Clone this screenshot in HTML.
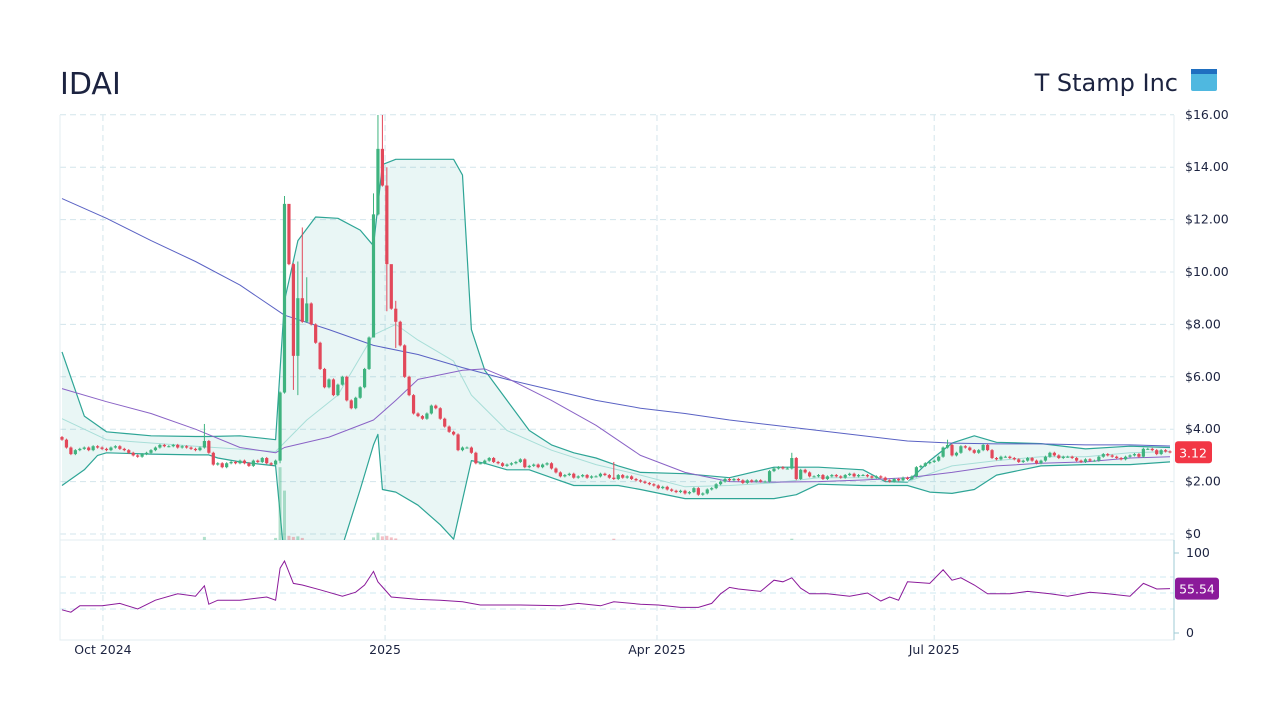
<!DOCTYPE html>
<html><head><meta charset="utf-8">
<style>
html,body{margin:0;padding:0;background:#fff;}
body{width:1280px;height:720px;overflow:hidden;font-family:"Liberation Sans","DejaVu Sans",sans-serif;}
svg text{font-family:"DejaVu Sans","Liberation Sans",sans-serif;}
</style></head>
<body>
<svg id="chart" width="1280" height="720" xmlns="http://www.w3.org/2000/svg">
  <text x="60" y="94" font-size="30" fill="#1c2340">IDAI</text>
  <text x="1178" y="91" font-size="24" fill="#1c2340" text-anchor="end">T Stamp Inc</text>
  <g>
    <rect x="1191" y="69" width="26" height="22" rx="2" fill="#4fb8e0"/>
    <rect x="1191" y="69" width="26" height="5" fill="#1f6fc0"/>
  </g>
  <g id="grid"></g>
  <g id="overlays" clip-path="url(#pc)"></g>
  <g id="candles" clip-path="url(#pc)"></g>
  <g id="rsi"></g>
  <g id="axes"></g>
  <defs><clipPath id="pc"><rect x="60" y="115" width="1114" height="425"/></clipPath></defs>
</svg>
<script>
const closes=[3.6,3.3,3.05,3.2,3.25,3.3,3.2,3.35,3.3,3.25,3.2,
3.3,3.35,3.25,3.2,3.1,3.0,2.95,3.05,3.1,3.2,
3.3,3.4,3.35,3.35,3.4,3.3,3.35,3.3,3.25,3.2,3.3,
3.55,3.1,2.65,2.7,2.55,2.7,2.75,2.7,2.8,2.7,2.6,2.8,2.75,2.9,2.7,2.65,2.8,
5.4,12.6,10.3,6.8,9.0,8.1,8.8,8.0,7.3,6.3,5.6,5.9,5.3,5.7,6.0,5.1,4.8,5.2,5.6,6.3,7.5,12.2,14.7,13.3,10.3,8.6,8.1,7.2,6.0,5.3,4.6,
4.5,4.4,4.6,4.9,4.8,4.4,4.1,3.9,3.8,3.2,3.3,3.3,3.1,2.7,2.7,2.8,2.9,2.75,2.7,2.6,2.65,2.7,2.75,2.85,2.55,2.6,2.65,2.55,2.65,2.7,2.5,2.35,2.2,2.25,2.3,2.15,2.2,2.25,2.15,2.2,2.2,2.3,2.25,2.15,2.1,2.25,2.15,2.2,2.1,2.05,2.0,1.95,1.9,1.85,1.75,1.8,1.7,1.65,1.6,1.65,1.55,1.6,1.75,
1.5,1.55,1.7,1.75,1.9,2.0,2.1,2.05,2.1,2.05,1.95,2.05,2.0,2.05,2.0,2.0,2.4,2.5,2.55,2.5,2.5,2.9,2.1,2.45,2.35,2.2,2.2,2.25,2.1,2.2,2.25,2.2,2.15,2.25,2.3,2.2,2.25,2.25,2.2,2.15,2.2,2.15,2.05,2.0,2.1,2.05,2.15,2.1,2.2,2.55,2.6,2.7,2.75,2.8,2.95,3.3,
3.4,3.0,3.1,3.35,3.3,3.2,3.1,3.2,3.4,3.2,2.9,2.85,2.95,2.95,2.9,2.85,2.75,2.8,2.9,2.8,2.7,2.8,2.95,3.1,3.0,2.9,2.95,2.95,2.9,2.8,2.75,2.85,2.8,2.8,2.95,3.05,3.0,2.95,2.9,2.85,2.95,3.0,3.05,2.95,3.25,3.25,3.2,3.05,3.2,3.15,3.12];
const firstOpen=3.7;
const wickHigh=[[32,4.2],[50,12.9],[51,11.4],[53,10.4],[54,11.7],[55,9.8],[70,13.0],[71,16.5],[72,16.0],[73,14.0],[74,9.0],[75,8.9],[124,2.75],[164,3.1],[199,3.6]];
const wickLow=[[49,2.7],[52,5.5],[53,5.3],[73,8.5],[70,8.6],[75,7.1],[165,2.05]];
const volIdx=[32,48,49,50,51,52,53,54,70,71,72,73,74,75,124,164];
const volVal=[1.2,0.8,28,19,1.6,1.2,1.4,0.8,1.0,2.8,1.4,1.6,1.0,0.6,0.5,0.5];
const sma200=[[0,12.8],[10,12.05],[20,11.2],[30,10.4],[40,9.5],[50,8.35],[60,7.8],[70,7.2],[80,6.85],[90,6.35],[100,5.9],[110,5.5],[120,5.1],[130,4.8],[140,4.6],[150,4.35],[160,4.15],[170,3.95],[180,3.75],[190,3.55],[200,3.47],[210,3.44],[220,3.44],[230,3.4],[240,3.4],[249,3.36]];
const sma50=[[0,5.55],[10,5.05],[20,4.6],[30,4.0],[40,3.3],[48,3.1],[50,3.3],[60,3.7],[70,4.35],[75,5.1],[80,5.9],[90,6.25],[95,6.3],[100,5.95],[110,5.1],[120,4.15],[130,3.0],[140,2.35],[150,2.0],[160,1.98],[170,2.0],[180,2.06],[190,2.15],[200,2.35],[210,2.6],[220,2.7],[230,2.75],[240,2.9],[249,2.95]];
const bbUpper=[[0,6.95],[5,4.5],[10,3.9],[20,3.75],[30,3.72],[33,3.72],[40,3.75],[48,3.6],[50,8.9],[53,11.2],[57,12.1],[62,12.05],[67,11.6],[70,11.0],[72,14.1],[75,14.3],[80,14.3],[88,14.3],[90,13.7],[92,7.8],[95,6.25],[100,5.1],[105,3.95],[110,3.4],[115,3.1],[120,2.9],[125,2.6],[130,2.35],[140,2.3],[150,2.15],[160,2.55],[165,2.55],[170,2.55],[180,2.45],[185,2.0],[190,1.98],[195,2.8],[200,3.47],[205,3.75],[210,3.5],[220,3.45],[230,3.25],[240,3.35],[249,3.3]];
const bbLower=[[0,1.85],[5,2.45],[8,3.0],[10,3.1],[20,3.05],[30,3.02],[33,3.02],[35,2.9],[40,2.75],[48,2.6],[50,-1.0],[55,-2.5],[62,-1.0],[67,1.7],[70,3.4],[71,3.8],[72,1.7],[75,1.6],[80,1.1],[85,0.35],[88,-0.2],[90,1.3],[92,2.8],[95,2.7],[100,2.45],[105,2.45],[110,2.15],[115,1.85],[120,1.85],[125,1.85],[130,1.7],[140,1.35],[150,1.35],[160,1.35],[165,1.5],[170,1.9],[180,1.85],[190,1.85],[195,1.6],[200,1.55],[205,1.7],[210,2.25],[220,2.6],[230,2.65],[240,2.65],[249,2.75]];
const bbMid=[[0,4.4],[10,3.6],[30,3.35],[48,3.15],[55,4.35],[62,5.3],[70,7.6],[75,8.0],[80,7.4],[88,6.6],[92,5.3],[100,3.95],[110,3.2],[120,2.65],[130,2.25],[140,1.8],[150,1.85],[160,1.95],[170,2.15],[180,2.15],[190,2.0],[200,2.6],[210,2.8],[220,2.95],[230,2.95],[240,3.1],[249,3.15]];
const rsiVals=[[0,29],[2,26],[4,34],[9,34],[13,37],[17,30],[21,41],[26,49],[30,46],[32,59],[33,36],[35,41],[40,41],[46,45],[48,41],[49,81],[50,90],[52,62],[54,60],[58,54],[63,46],[66,51],[68,60],[70,77],[71,64],[74,45],[80,42],[85,41],[90,39],[94,35],[103,35],[112,34],[116,37],[121,34],[124,39],[130,36],[134,35],[139,32],[143,32],[146,37],[148,49],[150,57],[152,55],[157,52],[160,66],[162,64],[164,69],[166,56],[168,49],[172,49],[177,46],[181,50],[184,40],[186,45],[188,41],[190,64],[195,62],[198,79],[200,66],[202,69],[205,60],[208,49],[213,49],[217,52],[222,49],[226,46],[231,51],[235,49],[240,46],[243,62],[246,55],[249,55.54]];
const priceTicks=[0,2,4,6,8,10,12,14,16];
const priceTickLabels=["$0","$2.00","$4.00","$6.00","$8.00","$10.00","$12.00","$14.00","$16.00"];
const dateIdx=[9.2,72.6,133.7,196];
const dateLabels=["Oct 2024","2025","Apr 2025","Jul 2025"];
const rsiTicks=[0,100];
const rsiGrid=[30,50,70];

const NS="http://www.w3.org/2000/svg";
const X=i=>62+i*4.45;
const Y=p=>534-p*26.2;
const RY=r=>633-r*0.8;
function el(t,a,p){const e=document.createElementNS(NS,t);for(const k in a)e.setAttribute(k,a[k]);p.appendChild(e);return e;}
const grid=document.getElementById('grid'),ov=document.getElementById('overlays'),cg=document.getElementById('candles'),rg=document.getElementById('rsi'),ax=document.getElementById('axes');

priceTicks.forEach((p,k)=>{
  const l=el('line',{x1:60,x2:1174,y1:Y(p),y2:Y(p),stroke:'#d3e5ec','stroke-dasharray':'6,4'},grid);
  
  
  const t=el('text',{x:1185,y:Y(p)+4,'font-size':12.5,fill:'#1c2340'},ax);
  t.textContent=priceTickLabels[k];
  
  
});
dateIdx.forEach((d,k)=>{
  const l=el('line',{x1:X(d),x2:X(d),y1:115,y2:640,stroke:'#d3e5ec','stroke-dasharray':'6,4'},grid);
  
  
  const t=el('text',{x:X(d),y:654,'font-size':12.5,fill:'#1c2340','text-anchor':'middle'},ax);
  t.textContent=dateLabels[k];
  
  
});
rsiGrid.forEach(r=>{
  const l=el('line',{x1:60,x2:1174,y1:RY(r),y2:RY(r),stroke:'#cfe9f0','stroke-dasharray':'6,4'},grid);
  
  
});
rsiTicks.forEach(r=>{
  const t=el('text',{x:1186,y:RY(r)+4,'font-size':12.5,fill:'#1c2340'},ax);
  t.textContent=String(r);
  
  
  el('line',{x1:1174,x2:1179,y1:RY(r),y2:RY(r),stroke:'#9fcbd6'},ax);
});
const fr=el('path',{d:'M60 115 V640 H1174 V115 M60 540 H1174',fill:'none',stroke:'#e3edf1'},grid);


const rax=el('line',{x1:1174,x2:1174,y1:540,y2:640,stroke:'#9fcbd6'},ax);



const pts=(arr,f)=>arr.map(([i,v])=>X(i).toFixed(1)+','+f(v).toFixed(1));
const bf=el('polygon',{points:pts(bbUpper,Y).concat(pts(bbLower.slice().reverse(),Y)).join(' '),fill:'rgba(38,166,154,0.1)'},ov);


[[bbUpper,'#2ea596','bollinger-upper',1.2],[bbLower,'#2ea596','bollinger-lower',1.2],[bbMid,'#a8ded8','bollinger-middle',1],[sma200,'#5a62c4','sma-200',1],[sma50,'#8a63c6','sma-50',1]].forEach(([a,c,n,w])=>{
  const l=el('polyline',{points:pts(a,Y).join(' '),fill:'none',stroke:c,'stroke-width':w,'stroke-linejoin':'round'},ov);
  
  
});
volIdx.forEach((i,k)=>{
  const up=closes[i]>=(i?closes[i-1]:firstOpen);
  const h=volVal[k]*2.6;
  const b=el('rect',{x:X(i)-1.5,y:540-h,width:3,height:h,fill:up?'rgba(63,179,127,0.4)':'rgba(226,72,90,0.35)'},cg);
  
  
});
const hi={},lo={};wickHigh.forEach(([i,v])=>hi[i]=v);wickLow.forEach(([i,v])=>lo[i]=v);
closes.forEach((c,i)=>{
  const o=i?closes[i-1]:firstOpen;
  const up=c>=o,col=up?'#3fb37f':'#e2485a';
  const h=hi[i]!==undefined?hi[i]:Math.max(o,c)+0.04,l=lo[i]!==undefined?lo[i]:Math.min(o,c)-0.04;
  const x=X(i);
  const w=el('line',{x1:x,x2:x,y1:Y(h),y2:Y(l),stroke:col,'stroke-width':1},cg);
  
  
  const top=Y(Math.max(o,c)),bh=Math.max(1,Y(Math.min(o,c))-top);
  const b=el('rect',{x:x-1.6,y:top,width:3.2,height:bh,fill:col},cg);
  
  
});
const rl=el('polyline',{points:pts(rsiVals,RY).join(' '),fill:'none',stroke:'#8b1a9a','stroke-width':1},rg);


const lp=closes[closes.length-1];
const pb=el('g',{},ax);


el('rect',{x:1175,y:Y(lp)-11,width:37,height:22,rx:3,fill:'#f23645'},pb);
const pt=el('text',{x:1193,y:Y(lp)+5,'font-size':12.5,fill:'#fff','text-anchor':'middle'},pb);pt.textContent=lp.toFixed(2);
const lr=rsiVals[rsiVals.length-1][1];
const rb=el('g',{},ax);


el('rect',{x:1175,y:RY(lr)-11,width:44,height:22,rx:3,fill:'#8b1a9a'},rb);
const rt=el('text',{x:1197,y:RY(lr)+5,'font-size':12.5,fill:'#fff','text-anchor':'middle'},rb);rt.textContent=lr.toFixed(2);
</script>
</body></html>
